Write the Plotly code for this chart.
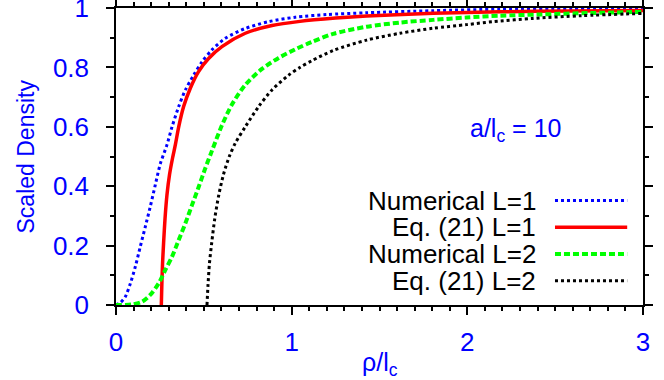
import plotly.graph_objects as go

# Curve samples (x = rho/l_c, y = scaled density)
num1_x = [0, 0.025, 0.053, 0.082, 0.11, 0.138, 0.167, 0.195, 0.224, 0.252, 0.29, 0.319,
          0.357, 0.395, 0.442, 0.49, 0.546, 0.622, 0.736, 0.869, 1.021, 1.2, 1.427, 1.806,
          2.186, 2.6, 3.0]
num1_y = [0, 0.008, 0.028, 0.073, 0.129, 0.196, 0.264, 0.331, 0.405, 0.475, 0.539, 0.60,
          0.668, 0.724, 0.774, 0.819, 0.859, 0.898, 0.931, 0.954, 0.969, 0.978, 0.984, 0.991,
          0.996, 0.998, 0.999]

eq1_x = [0.258, 0.261, 0.265, 0.271, 0.279, 0.29, 0.305, 0.322, 0.338, 0.357, 0.385, 0.423,
         0.47, 0.527, 0.603, 0.736, 0.888, 1.047, 1.25, 1.427, 1.806, 2.186, 2.6, 3.0]
eq1_y = [0, 0.07, 0.14, 0.21, 0.29, 0.37, 0.44, 0.495, 0.54, 0.60, 0.668, 0.73,
         0.786, 0.83, 0.87, 0.915, 0.941, 0.955, 0.966, 0.973, 0.982, 0.987, 0.99, 0.992]

num2_x = [0, 0.025, 0.091, 0.148, 0.195, 0.243, 0.281, 0.319, 0.357, 0.395, 0.433, 0.471,
          0.508, 0.546, 0.603, 0.66, 0.736, 0.831, 0.926, 1.021, 1.116, 1.237, 1.427, 1.617,
          1.806, 1.996, 2.186, 2.4, 2.7, 3.0]
num2_y = [0, 0, 0.002, 0.011, 0.034, 0.073, 0.118, 0.163, 0.219, 0.275, 0.337, 0.398,
          0.46, 0.519, 0.605, 0.675, 0.741, 0.795, 0.832, 0.861, 0.886, 0.913, 0.937, 0.951,
          0.96, 0.968, 0.974, 0.978, 0.983, 0.987]

eq2_x = [0.518, 0.524, 0.532, 0.545, 0.562, 0.585, 0.612, 0.645, 0.679, 0.736, 0.812, 0.888,
         0.983, 1.047, 1.116, 1.237, 1.427, 1.617, 1.806, 1.996, 2.146, 2.375, 2.65, 3.0]
eq2_y = [0, 0.07, 0.14, 0.21, 0.29, 0.37, 0.44, 0.5, 0.545, 0.60, 0.668, 0.724,
         0.774, 0.80, 0.823, 0.857, 0.892, 0.915, 0.932, 0.944, 0.954, 0.965, 0.974, 0.982]

LABELS = ['Numerical L=1', 'Eq. (21) L=1', 'Numerical L=2', 'Eq. (21) L=2']
COLORS = ['#0000ff', '#ff0000', '#00ff00', '#000000']
DASHES = ['3px,3px', 'solid', '6px,3px', '3px,3px']
WIDTHS = [3, 3.5, 4, 3]

FONT = 'Liberation Sans, Arial, Helvetica, sans-serif'
BLUE = '#0000ff'

series = [(num1_x, num1_y), (eq1_x, eq1_y), (num2_x, num2_y), (eq2_x, eq2_y)]

fig = go.Figure()
for (xs, ys), name, col, dash, w in zip(series, LABELS, COLORS, DASHES, WIDTHS):
    fig.add_trace(go.Scatter(
        x=xs, y=ys, mode='lines', name=name,
        line=dict(color=col, dash=dash, width=w, shape='spline', smoothing=0.8),
        showlegend=False,
    ))

# Hand-built legend: right-aligned text with the line sample to its right
legend_rows = [0.3515, 0.2616, 0.1717, 0.0818]
annotations = []
shapes = []
for name, col, dash, w, yy in zip(LABELS, COLORS, DASHES, WIDTHS, legend_rows):
    annotations.append(dict(
        x=0.8008, y=yy, xref='paper', yref='paper', xanchor='right', yanchor='middle',
        text=name, showarrow=False, font=dict(size=26, color='black', family=FONT),
    ))
    shapes.append(dict(
        type='line', xref='paper', yref='paper', x0=0.833, x1=0.970, y0=yy, y1=yy,
        line=dict(color=col, dash=dash, width=w),
    ))

annotations += [
    dict(x=0.759, y=0.59, xref='paper', yref='paper', xanchor='center', yanchor='middle',
         text='a/l<sub>c</sub> = 10', showarrow=False, font=dict(size=25, color=BLUE, family=FONT)),
    dict(x=-0.1708, y=0.5, xref='paper', yref='paper', xanchor='center', yanchor='middle',
         text='Scaled Density', textangle=-90, showarrow=False,
         font=dict(size=23, color=BLUE, family=FONT)),
    dict(x=0.5, y=-0.2, xref='paper', yref='paper', xanchor='center', yanchor='middle',
         text='ρ/l<sub>c</sub>', showarrow=False, font=dict(size=25, color=BLUE, family=FONT)),
]

axis_common = dict(
    showline=True, linecolor='black', linewidth=1.5, mirror='allticks',
    ticks='outside', ticklen=8, tickwidth=1.5, tickcolor='black',
    showgrid=False, zeroline=False, automargin=False, ticklabeloverflow='allow',
    tickfont=dict(size=26, color=BLUE, family=FONT),
)

fig.update_layout(
    width=664, height=380,
    margin=dict(l=116, r=21, t=8, b=75),
    plot_bgcolor='white', paper_bgcolor='white',
    xaxis=dict(range=[0, 3], dtick=1, tick0=0,
               minor=dict(dtick=0.1, ticks='outside', ticklen=4, tickcolor='black', tickwidth=1.5),
               ticklabelstandoff=5, **axis_common),
    yaxis=dict(range=[0, 1], dtick=0.2, tick0=0,
               minor=dict(dtick=0.1, ticks='outside', ticklen=4, tickcolor='black', tickwidth=1.5),
               ticklabelstandoff=12, **axis_common),
    annotations=annotations,
    shapes=shapes,
    showlegend=False,
)

# drop the page's default body margin so the figure sits at the window origin
fig.write_html('out.html', config={'displayModeBar': False},
               post_script="document.body.style.margin='0';")
